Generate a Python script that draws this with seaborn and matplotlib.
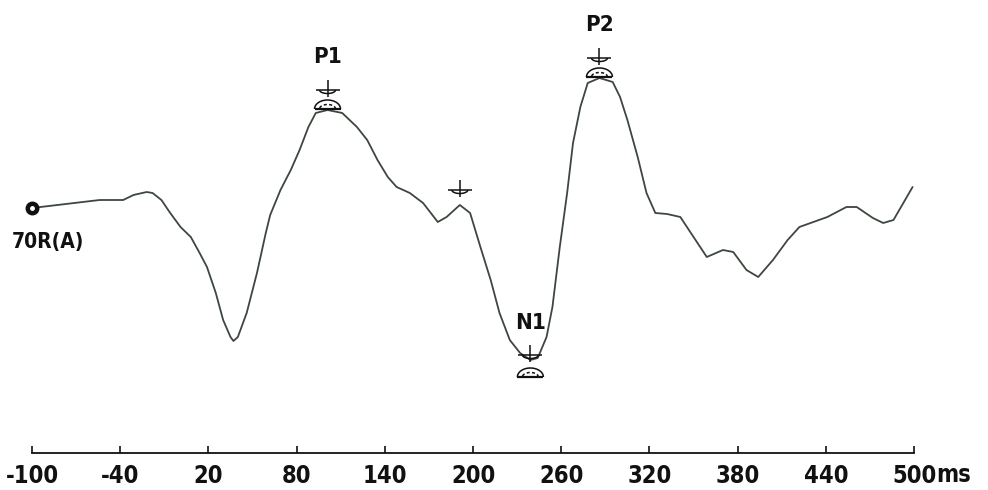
import numpy as np
import matplotlib
matplotlib.use("Agg")
import matplotlib.pyplot as plt
from matplotlib.transforms import IdentityTransform
import seaborn as sns

# Averaged evoked response, channel 70R(A)
time_ms = [-100, -54, -38, -31, -22, -18, -12, -6, 1, 8, 14, 19, 25, 30, 35, 37, 40, 46,
           53, 59, 62, 69, 76, 82, 88, 93, 101, 111, 121, 128, 135, 142, 148, 157, 166,
           176, 182, 191, 198, 205, 212, 218, 225, 232, 239, 244, 250, 254, 259, 264,
           268, 273, 278, 286, 295, 300, 305, 312, 318, 324, 332, 341, 350, 359, 370,
           377, 386, 394, 404, 414, 422, 441, 454, 461, 472, 479, 486, 499]
amplitude_uv = [0, 0.4, 0.4, 0.65, 0.8, 0.75, 0.4, -0.25, -0.95, -1.45, -2.25, -2.95,
                -4.25, -5.6, -6.45, -6.65, -6.45, -5.25, -3.25, -1.25, -0.35, 0.9, 1.9,
                2.9, 4.05, 4.75, 4.9, 4.75, 4.05, 3.4, 2.4, 1.55, 1.05, 0.75, 0.25, -0.7,
                -0.45, 0.15, -0.25, -1.95, -3.6, -5.25, -6.6, -7.25, -7.6, -7.5, -6.45,
                -4.95, -1.95, 0.75, 3.25, 5.05, 6.25, 6.5, 6.3, 5.55, 4.4, 2.55, 0.75,
                -0.25, -0.3, -0.45, -1.45, -2.45, -2.1, -2.2, -3.1, -3.45, -2.6, -1.6,
                -0.95, -0.45, 0.05, 0.05, -0.5, -0.75, -0.6, 1.05]

channel_label = "70R(A)"
peak_names = ["P1", "N1", "P2", ""]
peak_times = [101, 239, 286, 191]
peak_polarity = [1, -1, 1, 1]

tick_values = [-100, -40, 20, 80, 140, 200, 260, 320, 380, 440, 500]
tick_labels = ["-100", "-40", "20", "80", "140", "200", "260", "320", "380", "440", "500"]
unit_label = "ms"

sns.set_style("white")
plt.rcParams["font.family"] = ["DejaVu Sans"]
TXT = dict(fontweight="bold", fontstretch="condensed", color="#111111")

LINE = "#3d473d"
INK = "#111111"

fig = plt.figure(figsize=(9.88, 4.9), dpi=100)
ax = fig.add_axes([0, 0, 1, 1])
ax.set_xlim(-121.8, 550.3)
ax.set_ylim(-14.1, 10.4)

sns.lineplot(x=time_ms, y=amplitude_uv, ax=ax, color=LINE, linewidth=1.3,
             estimator=None, sort=False)

# channel start marker and name
ax.plot([time_ms[0]], [amplitude_uv[0]], marker="o", ms=9, mfc=INK, mec=INK, zorder=5)
ax.plot([time_ms[0]], [amplitude_uv[0]], marker="o", ms=2.5, mfc="white", mec="white", zorder=6)
ax.text(-114, -1.7, channel_label, fontsize=15, ha="left", va="center", **TXT)

fig.canvas.draw()


def pix(t, a):
    return ax.transData.transform((t, a))


def seg(xs, ys, lw=1.1, **kw):
    ax.plot(xs, ys, transform=IdentityTransform(), color=INK, lw=lw,
            solid_capstyle="butt", **kw)


def cursor(px, py):
    # vertical stem, bar and small cup below the bar
    seg([px, px], [py - 2, py + 15])
    seg([px - 12, px + 12], [py + 5, py + 5])
    th = np.linspace(0, np.pi, 20)
    seg(px + 8 * np.cos(th), py + 5 - 3.5 * np.sin(th))


def dome(px, py):
    th = np.linspace(0, np.pi, 30)
    seg([px - 13, px + 13], [py, py], lw=1.6)
    seg(px + 13 * np.cos(th), py + 9 * np.sin(th))
    seg(px + 8 * np.cos(th), py + 4.5 * np.sin(th), ls=(0, (2, 1.5)))


for name, t, pol in zip(peak_names, peak_times, peak_polarity):
    a = amplitude_uv[time_ms.index(t)]
    px, py = pix(t, a)
    if pol > 0:
        if name:
            cursor(px, py + 15)
            dome(px, py + 1)
            tx, ty = px, py + 53
        else:
            cursor(px, py + 10)
            tx, ty = None, None
    else:
        cursor(px, py)
        dome(px, py - 17)
        tx, ty = px, py + 37
    if name:
        ax.text(tx, ty, name, transform=IdentityTransform(), fontsize=16,
                ha="center", va="center", **TXT)

# time axis
axis_level = -12.25
for side in ["left", "right", "top"]:
    ax.spines[side].set_visible(False)
ax.spines["bottom"].set_position(("data", axis_level))
ax.spines["bottom"].set_bounds(tick_values[0], tick_values[-1])
ax.spines["bottom"].set_linewidth(1.3)
ax.spines["bottom"].set_color(INK)
ax.set_xticks(tick_values)
ax.set_xticklabels(tick_labels)
ax.tick_params(axis="x", bottom=True, direction="in", length=5, width=1.2, color=INK,
               pad=8, labelsize=17, labelcolor=INK)
for lab in ax.get_xticklabels():
    lab.set_fontweight("bold")
    lab.set_fontstretch("condensed")
ax.set_yticks([])
ax.set_xlabel("")
ax.set_ylabel("")

ex, ey = pix(tick_values[-1], axis_level)
ax.text(ex + 22, ey - 22, unit_label, transform=IdentityTransform(), fontsize=17,
        ha="left", va="center", **TXT)

fig.savefig("out.png", dpi=100, facecolor="white")
